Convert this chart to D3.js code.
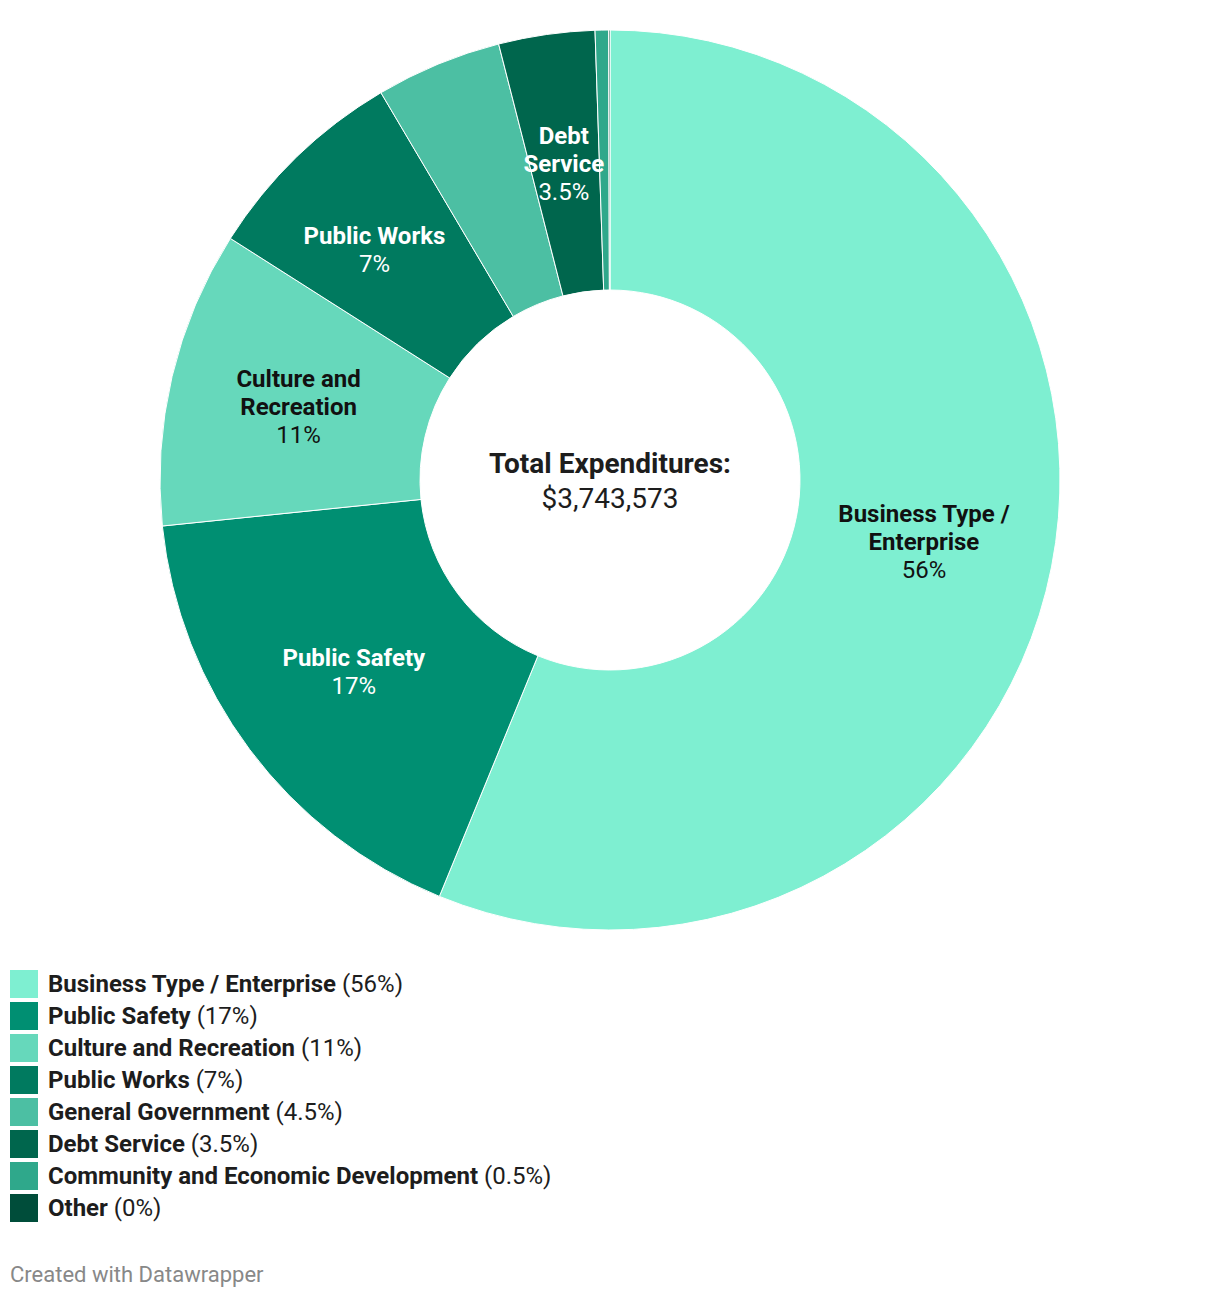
<!DOCTYPE html>
<html>
<head>
<meta charset="utf-8">
<script src="https://cdn.jsdelivr.net/npm/d3@7"></script>
<style>
  html, body { margin: 0; padding: 0; background: #fff; }
  body { width: 1220px; height: 1298px; font-family: Roboto, "Noto Sans", sans-serif; }
  svg text { font-family: Roboto, "Noto Sans", sans-serif; }
</style>
</head>
<body>
<svg id="chart" width="1220" height="1298"></svg>
<script>
const categories = ["Business Type / Enterprise", "Public Safety", "Culture and Recreation", "Public Works",
  "General Government", "Debt Service", "Community and Economic Development", "Other"];
const values = [56.19, 17.18, 10.65, 7.48, 4.52, 3.45, 0.48, 0.05];
const percentLabels = ["56%", "17%", "11%", "7%", "4.5%", "3.5%", "0.5%", "0%"];
const sliceLabelLines = [["Business Type /", "Enterprise"], ["Public Safety"], ["Culture and", "Recreation"],
  ["Public Works"], null, ["Debt", "Service"], null, null];
const colors = ["#7eefd1", "#008f72", "#66d8bb", "#007a5f", "#4cbfa3", "#00664d", "#2fa88b", "#004d3a"];
const labelColors = ["#111", "#fff", "#111", "#fff", "#111", "#fff", "#fff", "#fff"];
const centerTitle = "Total Expenditures:";
const centerValue = "$3,743,573";

const svg = d3.select("#chart");
const cx = 610, cy = 480, outerR = 450, innerR = 190;

const data = categories.map((c, i) => ({ name: c, value: values[i], pct: percentLabels[i],
  lines: sliceLabelLines[i], color: colors[i], labelColor: labelColors[i] }));

const pie = d3.pie().value(d => d.value).sort(null);
const arc = d3.arc().innerRadius(innerR).outerRadius(outerR);
const arcs = pie(data);

const g = svg.append("g").attr("transform", `translate(${cx},${cy})`);
g.selectAll("path.slice").data(arcs).join("path")
  .attr("class", "slice")
  .attr("d", arc)
  .attr("fill", d => d.data.color)
  .attr("stroke", "#fff")
  .attr("stroke-width", 1);

const labelArc = d3.arc().innerRadius((innerR + outerR) / 2).outerRadius((innerR + outerR) / 2);
const lineH = 28;
// small horizontal nudge so a label stays inside a narrow slice
const nudgeX = { "Public Works": -13, "Debt Service": -1 };
arcs.filter(d => d.data.lines).forEach(d => {
  let [x, y] = labelArc.centroid(d);
  x += nudgeX[d.data.name] || 0;
  const lines = d.data.lines.concat([d.data.pct]);
  const n = lines.length;
  const t = g.append("text")
    .attr("text-anchor", "middle")
    .attr("fill", d.data.labelColor)
    .style("font-size", "24px");
  lines.forEach((l, i) => {
    t.append("tspan")
      .attr("x", x)
      .attr("y", y + (i - (n - 1) / 2) * lineH)
      .attr("dy", "0.35em")
      .style("font-weight", i < n - 1 ? 700 : 400)
      .text(l);
  });
});

g.append("text").attr("text-anchor", "middle").attr("y", -17).attr("dy", "0.35em")
  .attr("fill", "#1d1d1d").style("font-size", "28px").style("font-weight", 700).text(centerTitle);
g.append("text").attr("text-anchor", "middle").attr("y", 18).attr("dy", "0.35em")
  .attr("fill", "#1d1d1d").style("font-size", "28px").style("font-weight", 400).text(centerValue);

// legend
const legend = svg.append("g").attr("transform", "translate(10,970)");
const rows = legend.selectAll("g.row").data(data).join("g")
  .attr("class", "row")
  .attr("transform", (d, i) => `translate(0,${i * 32})`);
rows.append("rect").attr("width", 28).attr("height", 28).attr("fill", d => d.color);
const lt = rows.append("text").attr("x", 38).attr("y", 14).attr("dy", "0.35em")
  .attr("fill", "#1d1d1d").style("font-size", "24px");
lt.append("tspan").style("font-weight", 700).text(d => d.name);
lt.append("tspan").style("font-weight", 400).text(d => " (" + d.pct + ")");

svg.append("text").attr("x", 10).attr("y", 1282).attr("fill", "#888")
  .style("font-size", "22px").text("Created with Datawrapper");
</script>
</body>
</html>
